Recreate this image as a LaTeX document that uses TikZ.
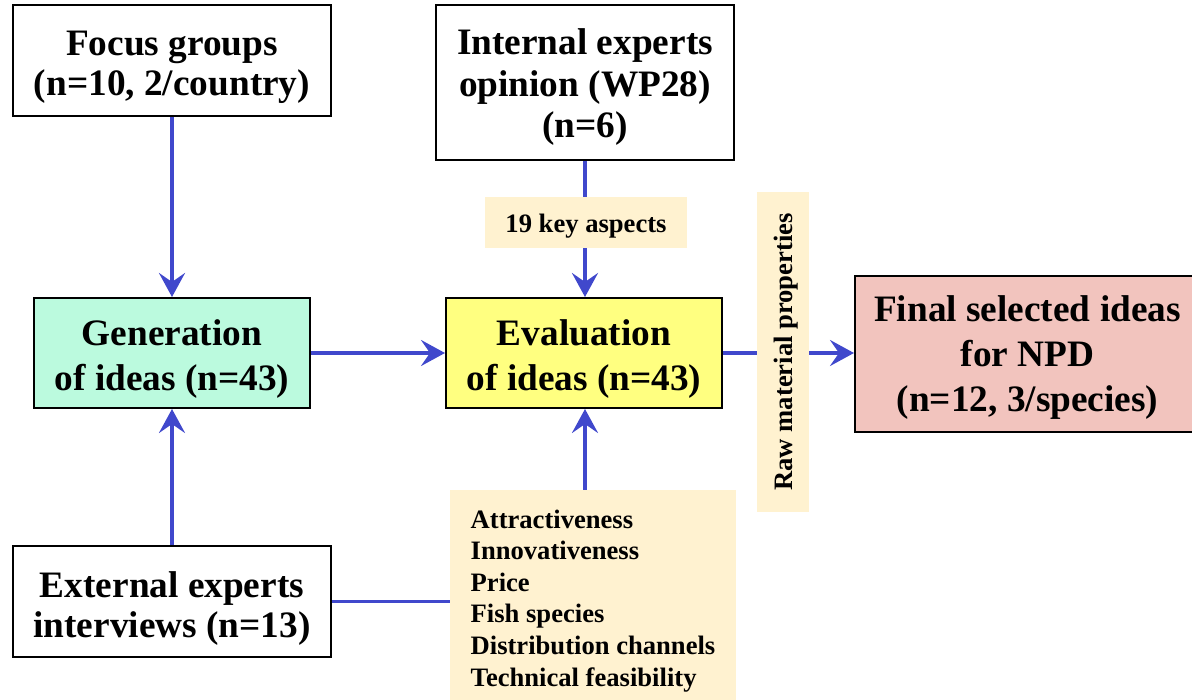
\documentclass[tikz,border=0pt]{standalone}
\usepackage{fontspec}
\setmainfont{Liberation Serif}
\usetikzlibrary{arrows.meta}
\definecolor{lnblue}{RGB}{64,72,204}
\definecolor{mint}{RGB}{187,250,222}
\definecolor{yel}{RGB}{255,255,128}
\definecolor{pinkf}{RGB}{242,196,190}
\definecolor{cream}{RGB}{255,242,208}
\tikzset{
  box/.style={draw=black, line width=2pt, align=center, inner sep=0pt,
    text height=#1pt+31pt, text depth=0pt,
    font=\fontsize{37.3}{#1}\selectfont\bfseries},
  lab/.style={fill=cream, inner sep=0pt, text height=18pt, text depth=0pt,
    font=\fontsize{26.6}{31.6}\selectfont\bfseries},
  ln/.style={draw=lnblue, line width=3.5pt},
  arr/.style={ln, -{Stealth[length=24pt,width=26pt,inset=9pt]}},
}
\begin{document}
\begin{tikzpicture}[x=1pt,y=-1pt]
\useasboundingbox (0,0) rectangle (1192,700);
\node[box=40, minimum width=318pt, minimum height=111pt] (focus) at (172,60.5) {Focus groups\\(n=10, 2/country)};
\node[box=41.5, text height=111pt, minimum width=298pt, minimum height=155pt] (internal) at (585,82.5) {Internal experts\\opinion (WP28)\\(n=6)};
\node[lab, minimum width=202pt, minimum height=51pt, text height=20pt] (key) at (586,222.5) {19 key aspects};
\node[box=45, fill=mint, minimum width=276pt, minimum height=110pt] (gen) at (172,353) {Generation\\of ideas (n=43)};
\node[box=45, fill=yel, minimum width=276pt, minimum height=110pt] (eval) at (584,353) {Evaluation\\of ideas (n=43)};
\node[lab, minimum width=320pt, minimum height=52pt, rotate=90] (raw) at (783,352) {Raw material properties};
\node[box=45, text height=115pt, fill=pinkf, minimum width=345pt, minimum height=156pt] (final) at (1027.5,354) {Final selected ideas\\for NPD\\(n=12, 3/species)};
\node[box=40, minimum width=318pt, minimum height=111pt] (ext) at (172,601.5) {External experts\\interviews (n=13)};
\node[lab, minimum width=286pt, minimum height=210pt, align=left, text height=182pt] (crit) at (593,595) {Attractiveness\\Innovativeness\\Price\\Fish species\\Distribution channels\\Technical feasibility};
\draw[arr] (focus.south) -- (gen.north);
\draw[ln] (internal.south) -- (internal.south |- key.north);
\draw[arr] (internal.south |- key.south) -- (internal.south |- eval.north);
\draw[arr] (gen.east) -- (eval.west);
\draw[ln] (eval.east) -- (raw.north |- eval.east);
\draw[arr] (raw.south |- eval.east) -- (final.west |- eval.east);
\draw[arr] (ext.north) -- (gen.south);
\draw[ln] (ext.east) -- (crit.west |- ext.east);
\draw[arr] (crit.north -| internal.south) -- (internal.south |- eval.south);
\end{tikzpicture}
\end{document}
